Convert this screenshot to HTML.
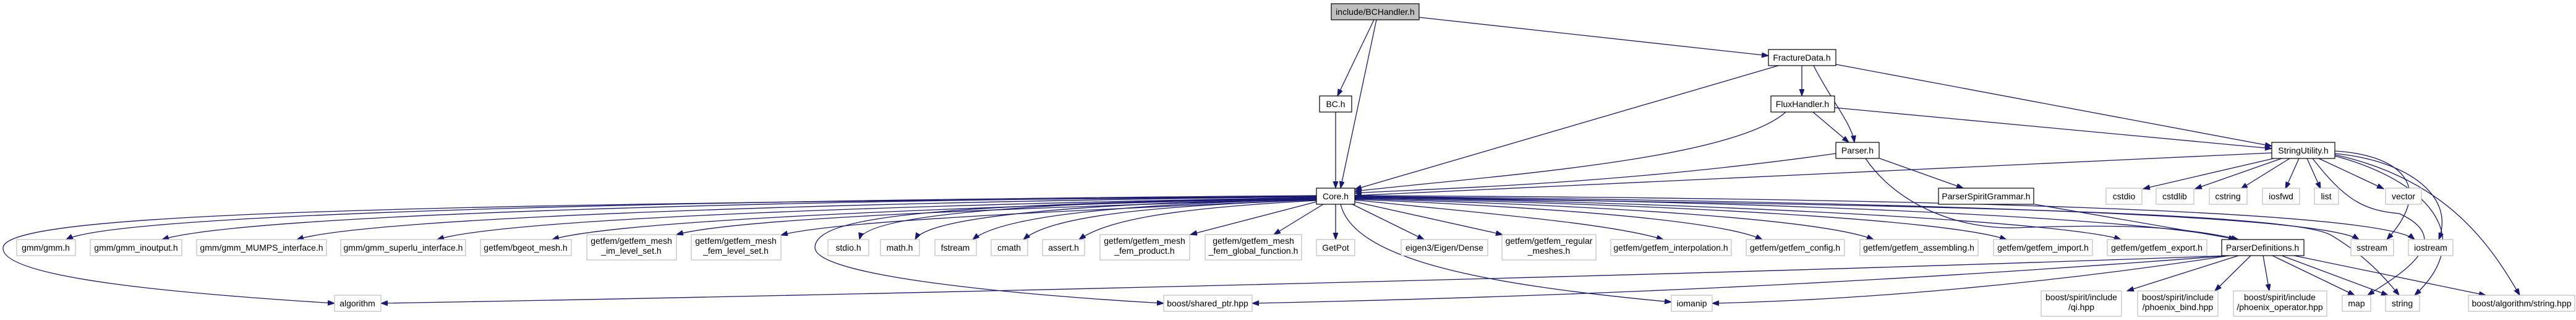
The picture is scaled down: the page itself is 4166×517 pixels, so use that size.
<!DOCTYPE html>
<html><head><meta charset="utf-8"><style>
html,body{margin:0;padding:0;background:#fff;}
svg{display:block;}
text{font-family:"Liberation Sans",Arial,sans-serif;font-size:14px;fill:#000;text-anchor:middle;}
.e{fill:none;stroke:#191970;stroke-width:1.3;marker-end:url(#a);}
.d{fill:#fff;stroke:#000;stroke-width:1.2;}
.x{fill:#fff;stroke:#bfbfbf;stroke-width:1.2;}
</style></head><body>
<svg width="4166" height="517" viewBox="0 0 4166 517" xmlns="http://www.w3.org/2000/svg">
<defs><marker id="a" markerUnits="userSpaceOnUse" markerWidth="12" markerHeight="10" refX="11" refY="4" orient="auto"><path d="M0,0 L11,4 L0,8 z" fill="#191970" stroke="#191970"/></marker></defs>
<g>
<!-- top edges -->
<path class="e" d="M2222,32 L2163,155"/>
<path class="e" d="M2226,32 L2168,304"/>
<path class="e" d="M2295,28 L2860,90"/>
<path class="e" d="M2160,181 L2160,304"/>
<path class="e" d="M2876,106 L2191,306"/>
<path class="e" d="M2914,106 L2914,155"/>
<path class="e" d="M2933,106 C2960,160 2995,200 2999,230"/>
<path class="e" d="M2969,104 L3674,236"/>
<path class="e" d="M2888,181 C2800,260 2400,285 2191,309"/>
<path class="e" d="M2932,181 L2990,230"/>
<path class="e" d="M2967,174 L3674,240"/>
<path class="e" d="M2969,248 C2600,300 2300,305 2191,312"/>
<path class="e" d="M3674,247 L2191,316"/>
<path class="e" d="M3040,256 L3175,304"/>
<path class="e" d="M3017,256 C3060,320 3150,370 3260,368 C3420,362 3530,365 3620,387"/>
<path class="e" d="M3290,330 L3620,387"/>
<!-- StringUtility -->
<path class="e" d="M3677,256 L3466,305"/>
<path class="e" d="M3690,256 L3550,305"/>
<path class="e" d="M3703,256 L3624,305"/>
<path class="e" d="M3718,256 L3696,305"/>
<path class="e" d="M3731,256 L3753,305"/>
<path class="e" d="M3750,256 L3855,305"/>
<path class="e" d="M3776,244 C3880,250 3940,300 3860,387"/>
<path class="e" d="M3776,248 C3900,260 3970,320 3944,387"/>
<path class="e" d="M3740,256 C3790,320 3820,340 3880,345 C3980,390 3870,450 3829,477"/>
<path class="e" d="M3776,252 C3920,290 4010,380 3905,477"/>
<path class="e" d="M3776,250 C3960,290 4030,400 4075,477"/>
<!-- Core to left row -->
<path class="e" d="M2129,316 C1300,322 200,340 107,387"/>
<path class="e" d="M2129,317 C1300,323 400,345 262,387"/>
<path class="e" d="M2129,318 C1400,326 600,350 480,387"/>
<path class="e" d="M2129,319 C1500,330 820,352 707,387"/>
<path class="e" d="M2129,320 C1600,332 1000,355 893,387"/>
<path class="e" d="M2129,321 C1700,335 1200,350 1094,379"/>
<path class="e" d="M2129,322 C1800,338 1350,355 1263,380"/>
<path class="e" d="M2129,320 C1700,325 1400,345 1390,387"/>
<path class="e" d="M2129,321 C1750,328 1500,350 1480,387"/>
<path class="e" d="M2129,322 C1800,330 1620,350 1573,387"/>
<path class="e" d="M2129,323 C1850,333 1700,350 1655,387"/>
<path class="e" d="M2129,324 C1900,336 1790,355 1745,387"/>
<path class="e" d="M2129,326 L1925,379"/>
<path class="e" d="M2140,330 L2060,379"/>
<path class="e" d="M2160,330 L2160,387"/>
<path class="e" d="M2129,318 C600,330 10,345 5,400 C0,450 300,475 541,490"/>
<path class="e" d="M2129,320 C1500,330 1318,350 1318,400 C1318,450 1700,480 1882,490"/>
<path class="e" d="M2168,330 C2190,420 2400,460 2703,488"/>
<!-- Core to right row -->
<path class="e" d="M2187,330 L2303,387"/>
<path class="e" d="M2191,326 L2430,379"/>
<path class="e" d="M2191,323 C2400,345 2600,360 2690,387"/>
<path class="e" d="M2191,322 C2500,335 2780,355 2850,387"/>
<path class="e" d="M2191,321 C2600,332 2950,355 3030,387"/>
<path class="e" d="M2191,320 C2700,330 3150,355 3245,387"/>
<path class="e" d="M2191,319 C2800,328 3350,360 3430,387"/>
<path class="e" d="M2191,318 C2900,325 3500,355 3615,387"/>
<path class="e" d="M2191,317 C3000,325 3750,345 3815,387"/>
<path class="e" d="M2191,316 C3100,320 3850,340 3905,387"/>
<path class="e" d="M2191,319 C3000,330 3700,340 3770,380 C3820,410 3850,440 3880,477"/>
<!-- ParserDefinitions -->
<path class="e" d="M3620,413 L3440,470"/>
<path class="e" d="M3640,413 L3582,470"/>
<path class="e" d="M3660,413 L3670,470"/>
<path class="e" d="M3675,413 L3808,477"/>
<path class="e" d="M3690,413 L3862,477"/>
<path class="e" d="M3710,413 L4020,477"/>
<path class="e" d="M3605,413 C2600,450 1200,480 616,490"/>
<path class="e" d="M3605,413 C3000,460 2500,480 2025,490"/>
<path class="e" d="M3605,413 C3300,460 3000,485 2769,490"/>
</g>
<g>
<rect x="2153" y="6" width="142" height="26" fill="#bfbfbf" stroke="#000" stroke-width="1.2"/><text x="2224" y="24">include/BCHandler.h</text>
<rect class="d" x="2860" y="80" width="109" height="26"/><text x="2914" y="98">FractureData.h</text>
<rect class="d" x="2134" y="155" width="52" height="26"/><text x="2160" y="173">BC.h</text>
<rect class="d" x="2864" y="155" width="103" height="26"/><text x="2915" y="173">FluxHandler.h</text>
<rect class="d" x="2969" y="230" width="70" height="26"/><text x="3004" y="248">Parser.h</text>
<rect class="d" x="3674" y="230" width="102" height="26"/><text x="3725" y="248">StringUtility.h</text>
<rect class="d" x="2129" y="304" width="62" height="26"/><text x="2160" y="322">Core.h</text>
<rect class="d" x="3135" y="304" width="154" height="26"/><text x="3212" y="322">ParserSpiritGrammar.h</text>
<rect class="x" x="3406" y="304" width="58" height="26"/><text x="3435" y="322">cstdio</text>
<rect class="x" x="3487" y="304" width="61" height="26"/><text x="3517" y="322">cstdlib</text>
<rect class="x" x="3573" y="304" width="61" height="26"/><text x="3603" y="322">cstring</text>
<rect class="x" x="3659" y="304" width="60" height="26"/><text x="3689" y="322">iosfwd</text>
<rect class="x" x="3743" y="304" width="39" height="26"/><text x="3762" y="322">list</text>
<rect class="x" x="3858" y="304" width="58" height="26"/><text x="3887" y="322">vector</text>

<rect class="x" x="27" y="387" width="95" height="26"/><text x="74" y="405">gmm/gmm.h</text>
<rect class="x" x="146" y="387" width="148" height="26"/><text x="220" y="405">gmm/gmm_inoutput.h</text>
<rect class="x" x="318" y="387" width="210" height="26"/><text x="423" y="405">gmm/gmm_MUMPS_interface.h</text>
<rect class="x" x="551" y="387" width="202" height="26"/><text x="652" y="405">gmm/gmm_superlu_interface.h</text>
<rect class="x" x="777" y="387" width="147" height="26"/><text x="850" y="405">getfem/bgeot_mesh.h</text>
<rect class="x" x="949" y="379" width="145" height="41"/><text x="1021" y="394">getfem/getfem_mesh</text><text x="1021" y="410">_im_level_set.h</text>
<rect class="x" x="1118" y="379" width="145" height="41"/><text x="1190" y="394">getfem/getfem_mesh</text><text x="1190" y="410">_fem_level_set.h</text>
<rect class="x" x="1339" y="387" width="66" height="26"/><text x="1372" y="405">stdio.h</text>
<rect class="x" x="1424" y="387" width="63" height="26"/><text x="1455" y="405">math.h</text>
<rect class="x" x="1512" y="387" width="67" height="26"/><text x="1545" y="405">fstream</text>
<rect class="x" x="1603" y="387" width="59" height="26"/><text x="1632" y="405">cmath</text>
<rect class="x" x="1686" y="387" width="68" height="26"/><text x="1720" y="405">assert.h</text>
<rect class="x" x="1779" y="379" width="145" height="41"/><text x="1851" y="394">getfem/getfem_mesh</text><text x="1851" y="410">_fem_product.h</text>
<rect class="x" x="1949" y="379" width="156" height="41"/><text x="2027" y="394">getfem/getfem_mesh</text><text x="2027" y="410">_fem_global_function.h</text>
<rect class="x" x="2129" y="387" width="62" height="26"/><text x="2160" y="405">GetPot</text>
<rect class="x" x="2266" y="387" width="140" height="26"/><text x="2336" y="405">eigen3/Eigen/Dense</text>
<rect class="x" x="2429" y="379" width="152" height="41"/><text x="2505" y="394">getfem/getfem_regular</text><text x="2505" y="410">_meshes.h</text>
<rect class="x" x="2605" y="387" width="195" height="26"/><text x="2702" y="405">getfem/getfem_interpolation.h</text>
<rect class="x" x="2824" y="387" width="159" height="26"/><text x="2903" y="405">getfem/getfem_config.h</text>
<rect class="x" x="3008" y="387" width="191" height="26"/><text x="3103" y="405">getfem/getfem_assembling.h</text>
<rect class="x" x="3224" y="387" width="160" height="26"/><text x="3304" y="405">getfem/getfem_import.h</text>
<rect class="x" x="3408" y="387" width="161" height="26"/><text x="3488" y="405">getfem/getfem_export.h</text>
<rect class="d" x="3593" y="387" width="133" height="26"/><text x="3659" y="405">ParserDefinitions.h</text>
<rect class="x" x="3802" y="387" width="69" height="26"/><text x="3836" y="405">sstream</text>
<rect class="x" x="3895" y="387" width="72" height="26"/><text x="3931" y="405">iostream</text>

<rect class="x" x="541" y="477" width="75" height="26"/><text x="578" y="495">algorithm</text>
<rect class="x" x="1882" y="477" width="143" height="26"/><text x="1953" y="495">boost/shared_ptr.hpp</text>
<rect class="x" x="2703" y="477" width="66" height="26"/><text x="2736" y="495">iomanip</text>
<rect class="x" x="3301" y="470" width="130" height="41"/><text x="3366" y="485">boost/spirit/include</text><text x="3366" y="501">/qi.hpp</text>
<rect class="x" x="3457" y="470" width="130" height="41"/><text x="3522" y="485">boost/spirit/include</text><text x="3522" y="501">/phoenix_bind.hpp</text>
<rect class="x" x="3612" y="470" width="151" height="41"/><text x="3687" y="485">boost/spirit/include</text><text x="3687" y="501">/phoenix_operator.hpp</text>
<rect class="x" x="3788" y="477" width="46" height="26"/><text x="3811" y="495">map</text>
<rect class="x" x="3858" y="477" width="55" height="26"/><text x="3885" y="495">string</text>
<rect class="x" x="3992" y="477" width="172" height="26"/><text x="4078" y="495">boost/algorithm/string.hpp</text>
</g>
</svg>
</body></html>
